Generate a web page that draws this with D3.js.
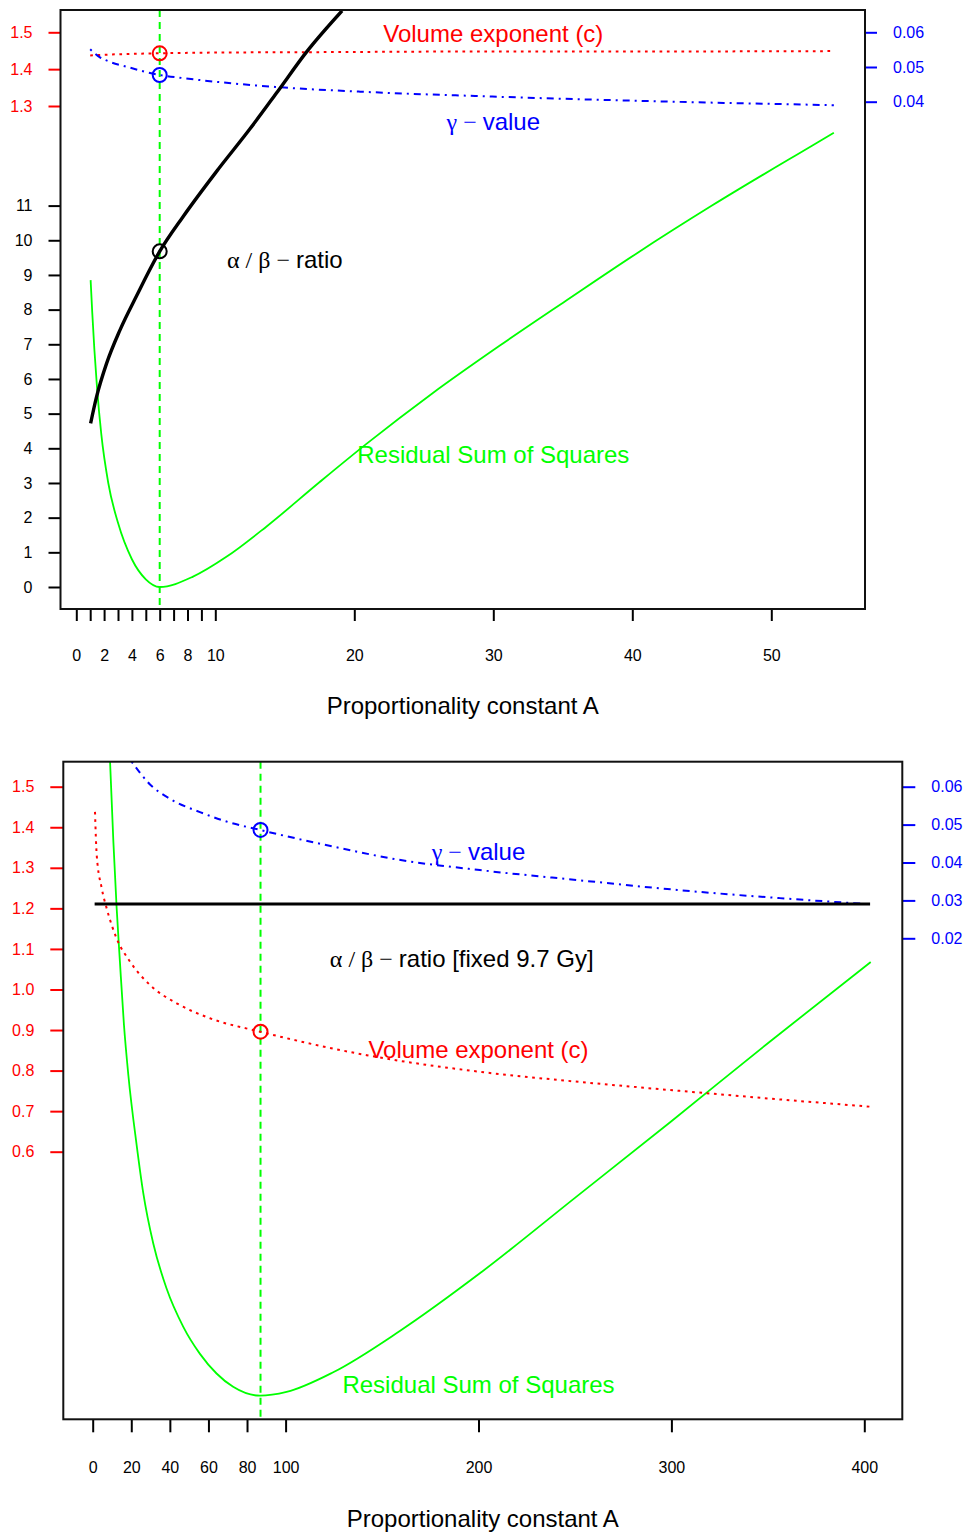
<!DOCTYPE html>
<html>
<head>
<meta charset="utf-8">
<script src="https://cdn.jsdelivr.net/npm/d3@7"></script>
<style>
  body { margin: 0; background: #fff; }
  text { font-family: "Liberation Sans", Arial, Helvetica, sans-serif; }
</style>
</head>
<body>
<script>
// two stacked panels: RSS scan over proportionality constant A
var svgWidth = 965;
var svgHeight = 1533;

// ---------- top panel (alpha/beta free) ----------
var topTicksX = [0, 1, 2, 3, 4, 5, 6, 7, 8, 9, 10, 20, 30, 40, 50];
var topLabelsX = [0, 2, 4, 6, 8, 10, 20, 30, 40, 50];
var topTicksC = [1.3, 1.4, 1.5];
var topTicksAB = [0, 1, 2, 3, 4, 5, 6, 7, 8, 9, 10, 11];
var topTicksGamma = [0.04, 0.05, 0.06];

var topA_c = [1.0, 2.0, 3.5, 6.0, 10.0, 16.5, 30.0, 42.0, 54.5];
var topC = [1.437, 1.439, 1.441, 1.443, 1.445, 1.446, 1.448, 1.448, 1.449];

var topA_gamma = [1.0, 1.7, 2.4, 3.6, 6.0, 7.7, 14.5, 20.4, 29.0, 40.9, 54.5];
var topGamma = [0.0551, 0.0528, 0.0515, 0.0501, 0.0477, 0.0468, 0.0442, 0.0429, 0.0416, 0.0402, 0.0390];

var topA_ab = [1.03, 1.46, 2.18, 3.14, 4.34, 6.0, 7.68, 10.08, 12.47, 14.5, 16.54, 19.12];
var topAB = [4.72, 5.49, 6.45, 7.41, 8.4, 9.68, 10.68, 11.98, 13.2, 14.3, 15.42, 16.62];

var topA_rss = [1.03, 1.15, 1.3, 1.5, 1.8, 2.3, 3.0, 4.0, 5.0, 6.0, 8.4, 10.8, 13.67, 17.49, 20.85, 25.63, 30.42, 35.2, 40.23, 45.73, 52.9, 54.5];
var topRSS = [8.85, 7.9, 6.85, 5.7, 4.4, 3.0, 1.85, 0.8, 0.22, 0, 0.3, 0.87, 1.74, 3.02, 4.12, 5.59, 6.95, 8.25, 9.6, 11.0, 12.72, 13.1];

var topOptA = 6;
var topOptC = 1.443;
var topOptGamma = 0.0477;
var topOptAB = 9.68;

// ---------- bottom panel (alpha/beta fixed at 9.7 Gy) ----------
var botTicksX = [0, 20, 40, 60, 80, 100, 200, 300, 400];
var botTicksC = [0.6, 0.7, 0.8, 0.9, 1.0, 1.1, 1.2, 1.3, 1.4, 1.5];
var botTicksGamma = [0.02, 0.03, 0.04, 0.05, 0.06];

var botA_c = [1.2, 2.07, 4.66, 7.25, 12.4, 19.3, 29.7, 43.5, 60.8, 86.7, 142, 200.7, 252.5, 304.3, 356, 403];
var botC = [1.438, 1.332, 1.25, 1.2, 1.126, 1.069, 1.011, 0.966, 0.929, 0.896, 0.838, 0.797, 0.772, 0.75, 0.729, 0.711];

var botA_gamma = [20.2, 29.7, 40, 55.6, 69.4, 86.7, 124.7, 159, 200.7, 252.5, 304.3, 356, 402.8];
var botGamma = [0.0666, 0.0606, 0.0568, 0.0533, 0.0508, 0.0486, 0.0442, 0.0407, 0.038, 0.0353, 0.0327, 0.0306, 0.029];

var botA_ab = [1, 403];
var botAB = [9.7, 9.7];

var botA_rss = [9.0, 10.7, 12.4, 14.1, 16.2, 18.5, 22.8, 26.2, 31.4, 38.3, 46.9, 55.6, 64.2, 72.8, 86.7, 100.5, 124.7, 159.2, 200.7, 250, 300, 350, 403.3];
var botRSS = [100, 87.5, 77, 68.5, 58.5, 50.5, 39.5, 32, 24, 16.9, 10.9, 6.6, 3.5, 1.4, 0, 0.6, 3.7, 10.2, 19.3, 31.2, 43.3, 55.6, 68.4];

var botOptA = 87;
var botOptC = 0.896;
var botOptGamma = 0.0486;

var red = "#ff0000", blue = "#0000ff", green = "#00ff00", black = "#000000";

var svg = d3.select("body")
  .append("svg")
  .attr("width", svgWidth)
  .attr("height", svgHeight);

function zip(xs, ys) {
  return xs.map(function(x, i) { return [x, ys[i]]; });
}

// ---- panel definitions (scales built from the arrays) ----
var topPanel = {
  id: "top",
  box: {left: 60.5, right: 865, top: 10, bottom: 609},
  x: d3.scaleLinear().domain([0, 50]).range([76.3, 771.3]),
  yC: d3.scaleLinear().domain([1.3, 1.5]).range([106, 32.3]),
  yAB: d3.scaleLinear().domain([0, 11]).range([587, 205.6]),
  yGamma: d3.scaleLinear().domain([0.04, 0.06]).range([101.7, 32.3]),
  yRSS: d3.scaleLinear().domain([0, 11]).range([587, 205.6]),
  tickLen: 12,
  xTicks: topTicksX,
  xFormat: function(d) { return topLabelsX.indexOf(d) >= 0 ? d : ""; },
  leftAxes: [
    {ticks: topTicksC, scale: "yC", color: red, fmt: d3.format(".1f")},
    {ticks: topTicksAB, scale: "yAB", color: black, fmt: d3.format("d")}
  ],
  rightTicks: topTicksGamma,
  c: zip(topA_c, topC),
  gamma: zip(topA_gamma, topGamma),
  ab: zip(topA_ab, topAB),
  rss: zip(topA_rss, topRSS),
  abWidth: 3.4,
  optA: topOptA,
  circles: [
    {v: topOptC, scale: "yC", color: red},
    {v: topOptGamma, scale: "yGamma", color: blue},
    {v: topOptAB, scale: "yAB", color: black}
  ],
  labels: [
    {a: 30, v: 1.497, scale: "yC", color: red, parts: [["Volume exponent (c)", 0]]},
    {a: 30, v: 0.0343, scale: "yGamma", color: blue, parts: [["\u03b3 \u2212 ", 1], ["value", 0]]},
    {a: 15, v: 9.43, scale: "yAB", color: black, parts: [["\u03b1 / \u03b2 \u2212 ", 1], ["ratio", 0]]},
    {a: 30, v: 3.83, scale: "yRSS", color: green, parts: [["Residual Sum of Squares", 0]]}
  ],
  titleY: 714
};

var botPanel = {
  id: "bot",
  box: {left: 63.3, right: 902.3, top: 761.7, bottom: 1419.3},
  x: d3.scaleLinear().domain([0, 400]).range([92.7, 864.3]),
  yC: d3.scaleLinear().domain([0.6, 1.5]).range([1151.7, 786.7]),
  yAB: d3.scaleLinear().domain([0, 9.7]).range([1419.3, 904]),
  yGamma: d3.scaleLinear().domain([0.02, 0.06]).range([938.3, 786.7]),
  yRSS: d3.scaleLinear().domain([0, 100]).range([1395.7, 761.7]),
  tickLen: 13,
  xTicks: botTicksX,
  xFormat: function(d) { return d; },
  leftAxes: [
    {ticks: botTicksC, scale: "yC", color: red, fmt: d3.format(".1f")}
  ],
  rightTicks: botTicksGamma,
  c: zip(botA_c, botC),
  gamma: zip(botA_gamma, botGamma),
  ab: zip(botA_ab, botAB),
  rss: zip(botA_rss, botRSS),
  abWidth: 3,
  optA: botOptA,
  circles: [
    {v: botOptC, scale: "yC", color: red},
    {v: botOptGamma, scale: "yGamma", color: blue}
  ],
  labels: [
    {a: 200, v: 0.0429, scale: "yGamma", color: blue, parts: [["\u03b3 \u2212 ", 1], ["value", 0]]},
    {a: 191.3, v: 8.67, scale: "yAB", color: black, parts: [["\u03b1 / \u03b2 \u2212 ", 1], ["ratio [fixed 9.7 Gy]", 0]]},
    {a: 200, v: 0.852, scale: "yC", color: red, parts: [["Volume exponent (c)", 0]]},
    {a: 200, v: 1.7, scale: "yRSS", color: green, parts: [["Residual Sum of Squares", 0]]}
  ],
  titleY: 1527
};

function styleAxis(g, color) {
  g.attr("font-family", "Liberation Sans, Arial, sans-serif").attr("font-size", 16);
  g.select(".domain").remove();
  g.selectAll(".tick line").attr("stroke", color).attr("stroke-width", 2);
  g.selectAll(".tick text").attr("fill", color);
}

function drawPanel(p) {
  var b = p.box;

  svg.append("clipPath").attr("id", "clip-" + p.id)
    .append("rect")
    .attr("x", b.left).attr("y", b.top)
    .attr("width", b.right - b.left).attr("height", b.bottom - b.top);

  var plot = svg.append("g").attr("clip-path", "url(#clip-" + p.id + ")");

  // RSS curve
  plot.append("path")
    .datum(p.rss)
    .attr("fill", "none")
    .attr("stroke", green)
    .attr("stroke-width", 1.8)
    .attr("d", d3.line().x(d => p.x(d[0])).y(d => p.yRSS(d[1])).curve(d3.curveMonotoneX));

  // optimum marker
  plot.append("line")
    .attr("x1", p.x(p.optA)).attr("x2", p.x(p.optA))
    .attr("y1", b.top).attr("y2", b.bottom)
    .attr("stroke", green)
    .attr("stroke-width", 2)
    .attr("stroke-dasharray", "7,5");

  // volume exponent (dotted)
  plot.append("path")
    .datum(p.c)
    .attr("fill", "none")
    .attr("stroke", red)
    .attr("stroke-width", 2)
    .attr("stroke-dasharray", "2.7,4.6")
    .attr("d", d3.line().x(d => p.x(d[0])).y(d => p.yC(d[1])).curve(d3.curveMonotoneX));

  // gamma (dot-dash)
  plot.append("path")
    .datum(p.gamma)
    .attr("fill", "none")
    .attr("stroke", blue)
    .attr("stroke-width", 2)
    .attr("stroke-dasharray", "2,5,7,5")
    .attr("d", d3.line().x(d => p.x(d[0])).y(d => p.yGamma(d[1])).curve(d3.curveMonotoneX));

  // alpha/beta
  plot.append("path")
    .datum(p.ab)
    .attr("fill", "none")
    .attr("stroke", black)
    .attr("stroke-width", p.abWidth)
    .attr("d", d3.line().x(d => p.x(d[0])).y(d => p.yAB(d[1])).curve(d3.curveMonotoneX));

  p.circles.forEach(function(c) {
    plot.append("circle")
      .attr("cx", p.x(p.optA))
      .attr("cy", p[c.scale](c.v))
      .attr("r", 7)
      .attr("fill", "none")
      .attr("stroke", c.color)
      .attr("stroke-width", 2);
  });

  // annotations
  p.labels.forEach(function(l) {
    var t = svg.append("text")
      .attr("x", p.x(l.a))
      .attr("y", p[l.scale](l.v))
      .attr("dy", "0.35em")
      .attr("text-anchor", "middle")
      .attr("font-size", 24)
      .attr("fill", l.color);
    l.parts.forEach(function(part) {
      t.append("tspan")
        .attr("font-family", part[1] ? "Liberation Serif, DejaVu Serif, serif" : "Liberation Sans, Arial, sans-serif")
        .text(part[0]);
    });
  });

  // axes
  svg.append("g")
    .attr("transform", `translate(0, ${b.bottom})`)
    .call(d3.axisBottom(p.x).tickValues(p.xTicks).tickSize(p.tickLen).tickPadding(29).tickFormat(p.xFormat))
    .call(styleAxis, black);

  p.leftAxes.forEach(function(ax) {
    svg.append("g")
      .attr("transform", `translate(${b.left}, 0)`)
      .call(d3.axisLeft(p[ax.scale]).tickValues(ax.ticks).tickSize(p.tickLen).tickPadding(16).tickFormat(ax.fmt))
      .call(styleAxis, ax.color);
  });

  svg.append("g")
    .attr("transform", `translate(${b.right}, 0)`)
    .call(d3.axisRight(p.yGamma).tickValues(p.rightTicks).tickSize(p.tickLen).tickPadding(16).tickFormat(d3.format(".2f")))
    .call(styleAxis, blue);

  // frame
  svg.append("rect")
    .attr("x", b.left).attr("y", b.top)
    .attr("width", b.right - b.left).attr("height", b.bottom - b.top)
    .attr("fill", "none")
    .attr("stroke", "#111")
    .attr("stroke-width", 2);

  svg.append("text")
    .attr("x", (b.left + b.right) / 2)
    .attr("y", p.titleY)
    .attr("text-anchor", "middle")
    .attr("font-size", 24)
    .attr("fill", black)
    .text("Proportionality constant A");
}

drawPanel(topPanel);
drawPanel(botPanel);
</script>
</body>
</html>
